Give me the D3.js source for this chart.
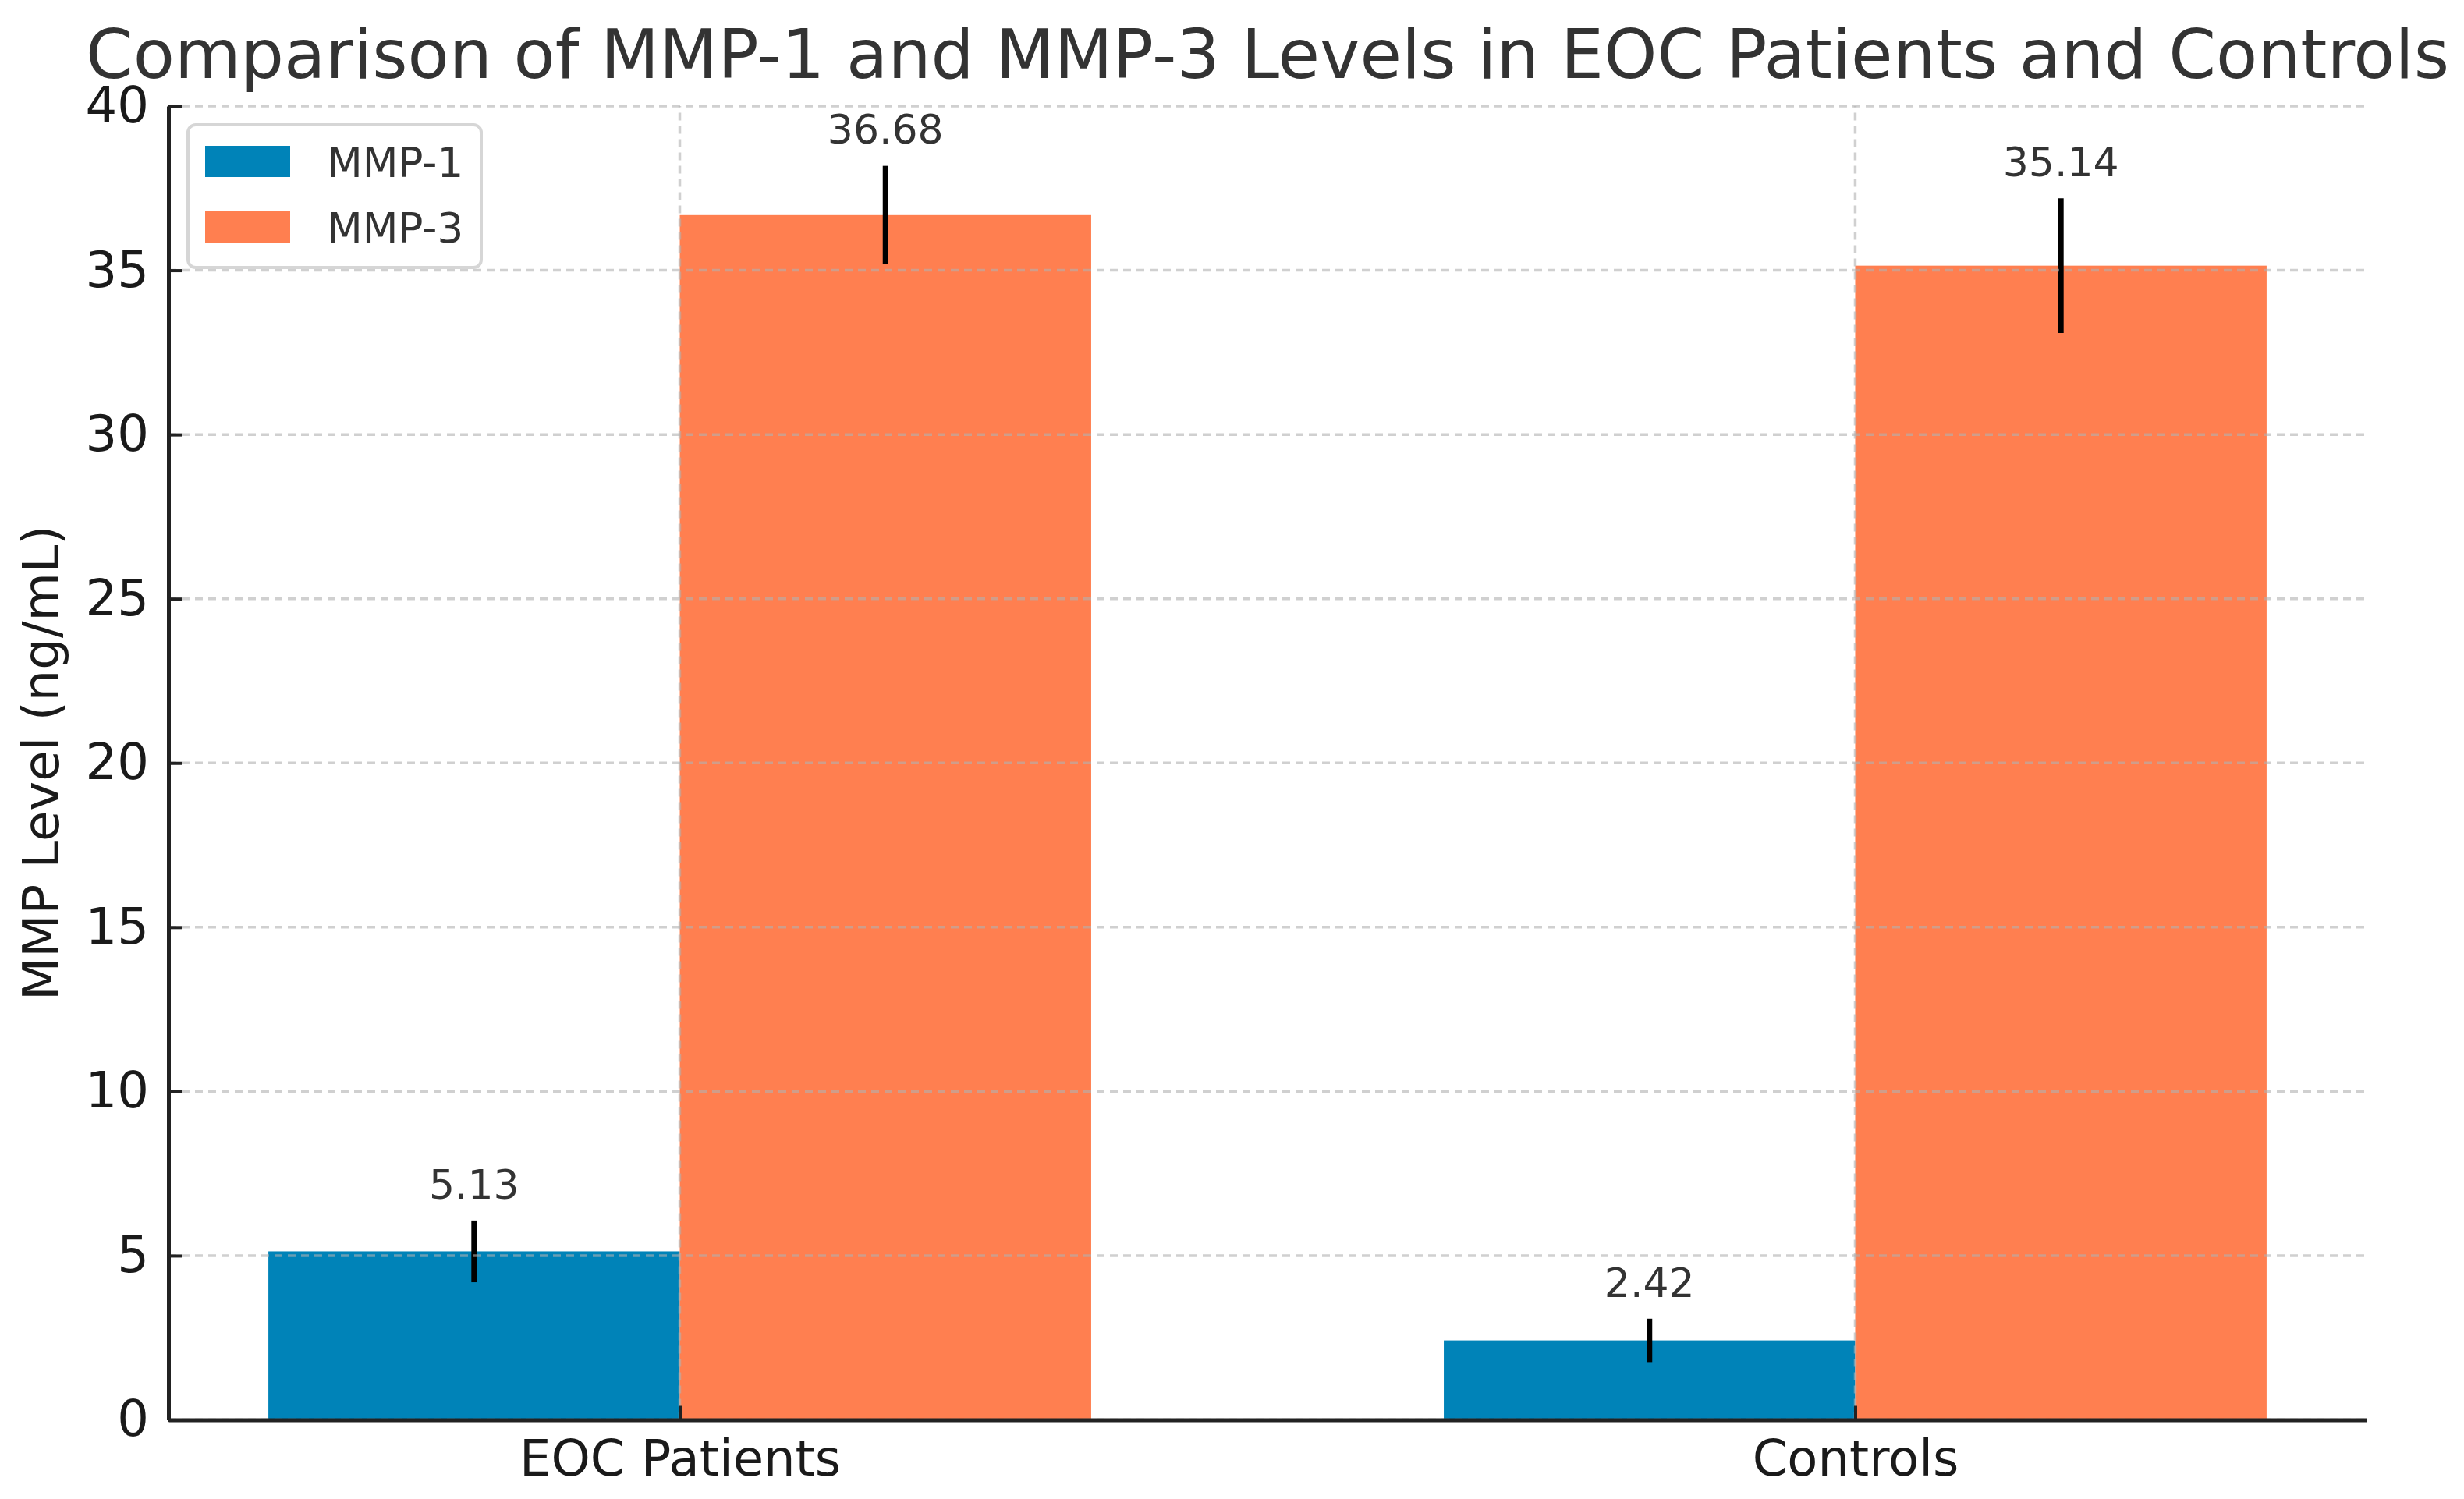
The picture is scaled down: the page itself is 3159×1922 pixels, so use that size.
<!DOCTYPE html>
<html>
<head>
<meta charset="utf-8">
<script src="https://cdn.jsdelivr.net/npm/d3@7"></script>
<style>
  body { margin: 0; background: #fff; }
  text { font-family: "DejaVu Sans", sans-serif; }
</style>
</head>
<body>
<div id="chart"></div>
<script>
// chart data
const categories = ["EOC Patients", "Controls"];
const seriesNames = ["MMP-1", "MMP-3"];
const seriesColors = ["#0083B8", "#FF7F50"];
const mmp1Values = [5.13, 2.42];
const mmp3Values = [36.68, 35.14];
const mmp1Errors = [0.94, 0.66];
const mmp3Errors = [1.5, 2.05];
const yTicks = [0, 5, 10, 15, 20, 25, 30, 35, 40];

const width = 3159, height = 1922;
const margin = { top: 136, right: 125, bottom: 101.5, left: 216 };
const barWidth = 0.35; // in category units

const svg = d3.select("#chart")
    .append("svg")
    .attr("width", width)
    .attr("height", height);

const x = d3.scalePoint()
    .domain(categories)
    .range([margin.left, width - margin.right])
    .padding(0.435);
const step = x.step();

const y = d3.scaleLinear()
    .domain([0, 40])
    .range([height - margin.bottom, margin.top]);

// rows for the bars
const rows = [];
categories.forEach((c, i) => {
    rows.push({ cat: c, s: 0, value: mmp1Values[i], err: mmp1Errors[i] });
    rows.push({ cat: c, s: 1, value: mmp3Values[i], err: mmp3Errors[i] });
});
const barX = d => x(d.cat) + (d.s === 0 ? -barWidth * step : 0);

// bars
svg.append("g")
    .selectAll("rect")
    .data(rows)
    .join("rect")
    .attr("x", barX)
    .attr("y", d => y(d.value))
    .attr("width", barWidth * step)
    .attr("height", d => y(0) - y(d.value))
    .attr("fill", d => seriesColors[d.s]);

// error bars
svg.append("g")
    .selectAll("line")
    .data(rows)
    .join("line")
    .attr("x1", d => barX(d) + barWidth * step / 2)
    .attr("x2", d => barX(d) + barWidth * step / 2)
    .attr("y1", d => y(d.value - d.err))
    .attr("y2", d => y(d.value + d.err))
    .attr("stroke", "#000")
    .attr("stroke-width", 7);

// grid (drawn over the bars, like the original)
const grid = svg.append("g")
    .attr("stroke", "#b0b0b0")
    .attr("stroke-opacity", 0.6)
    .attr("stroke-width", 3.5)
    .attr("stroke-dasharray", "10,7");
grid.selectAll(".gy")
    .data(yTicks)
    .join("line")
    .attr("x1", margin.left)
    .attr("x2", width - margin.right)
    .attr("y1", d => y(d))
    .attr("y2", d => y(d));
grid.selectAll(".gx")
    .data(categories)
    .join("line")
    .attr("x1", d => x(d))
    .attr("x2", d => x(d))
    .attr("y1", y(0))
    .attr("y2", y(40));

// value labels
svg.append("g")
    .selectAll("text")
    .data(rows)
    .join("text")
    .attr("x", d => barX(d) + barWidth * step / 2)
    .attr("y", d => y(d.value + d.err + 0.67))
    .attr("text-anchor", "middle")
    .attr("font-size", 52)
    .attr("fill", "#333")
    .text(d => d.value.toFixed(2));

// axes
const yAxis = svg.append("g")
    .attr("transform", `translate(${margin.left},0)`)
    .call(d3.axisLeft(y).tickValues(yTicks).tickSizeInner(-17).tickSizeOuter(0).tickPadding(25));
const xAxis = svg.append("g")
    .attr("transform", `translate(0,${y(0)})`)
    .call(d3.axisBottom(x).tickSizeInner(-18).tickSizeOuter(0).tickPadding(26));

[xAxis, yAxis].forEach(a => {
    a.select(".domain").attr("stroke", "#222").attr("stroke-width", 5);
    a.selectAll(".tick line").attr("stroke", "#222").attr("stroke-width", 4);
    a.selectAll(".tick text")
        .attr("font-size", 64)
        .attr("font-family", "DejaVu Sans")
        .attr("fill", "#1a1a1a");
});

// y axis label
svg.append("text")
    .attr("transform", `translate(75,${(y(0) + y(40)) / 2}) rotate(-90)`)
    .attr("text-anchor", "middle")
    .attr("font-size", 64)
    .attr("fill", "#1a1a1a")
    .text("MMP Level (ng/mL)");

// title
svg.append("text")
    .attr("x", (margin.left + width - margin.right) / 2)
    .attr("y", 100)
    .attr("text-anchor", "middle")
    .attr("font-size", 87)
    .attr("fill", "#333")
    .text("Comparison of MMP-1 and MMP-3 Levels in EOC Patients and Controls");

// legend
const legend = svg.append("g").attr("transform", "translate(241,160)");
legend.append("rect")
    .attr("width", 376)
    .attr("height", 183)
    .attr("rx", 10)
    .attr("fill", "#fff")
    .attr("fill-opacity", 0.8)
    .attr("stroke", "#d6d6d6")
    .attr("stroke-width", 4);
const items = legend.selectAll(".item")
    .data(seriesNames)
    .join("g")
    .attr("transform", (d, i) => `translate(22,${27 + i * 84})`);
items.append("rect")
    .attr("width", 109)
    .attr("height", 40)
    .attr("fill", (d, i) => seriesColors[i]);
items.append("text")
    .attr("x", 156)
    .attr("y", 40)
    .attr("font-size", 53)
    .attr("fill", "#333")
    .text(d => d);
</script>
</body>
</html>
